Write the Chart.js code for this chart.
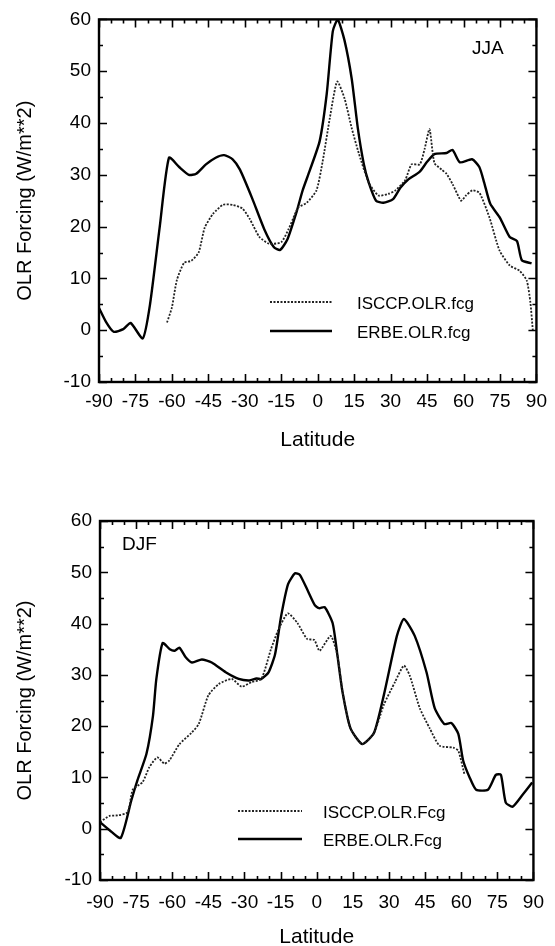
<!DOCTYPE html>
<html>
<head>
<meta charset="utf-8">
<script src="https://cdn.jsdelivr.net/npm/chart.js@4.4.0/dist/chart.umd.min.js"></script>
<style>
    body { margin: 0; background: #fff; width: 555px; height: 946px; overflow: hidden; position: relative; }
    canvas { position: absolute; left: 0; }
    #jjaChart { top: 0; }
    #djfChart { top: 460px; }
</style>
</head>
<body>
<canvas id="jjaChart" width="555" height="460"></canvas>
<canvas id="djfChart" width="555" height="500"></canvas>
<script>
// JJA panel - ERBE (solid)
const jjaErbeLat = [-90, -87, -84, -80, -77, -72, -69, -65, -61.2, -57, -53, -50, -46, -42, -38.5, -35, -32, -27, -22, -18, -15.5, -12.5, -8.6, -6.2, -3.3, 0.8, 3.7, 6.2, 8.2, 11, 14, 16.5, 19, 21, 24, 27, 31, 34, 37, 42, 45, 48, 53, 55.5, 58.5, 63.5, 66.5, 68.5, 71, 75, 79, 82, 84, 88];
const jjaErbeVal = [4.3, 1.5, -0.3, 0.2, 1.4, -1.6, 5, 20, 33.3, 31.5, 30, 30.2, 32, 33.3, 33.8, 33, 31, 25.5, 19.5, 16, 15.5, 17.5, 23, 27, 30.8, 36.5, 45.6, 57.7, 60, 56, 48.5, 39, 32, 28.5, 25, 24.6, 25.3, 27.5, 29, 30.6, 32.5, 34, 34.2, 34.8, 32.4, 33, 31.5, 28.5, 24.4, 21.7, 18, 17.2, 13.5, 12.9];

// JJA panel - ISCCP (dotted)
const jjaIsccpLat = [-62, -60, -58, -55, -52, -49, -46.5, -43, -39, -35, -31, -28, -24, -20, -15, -12, -10, -8, -4.5, -0.5, 2, 5, 8, 11, 14, 17, 21, 25, 29, 32, 36, 38.6, 42, 44, 46, 48, 51, 53, 55.5, 59, 61, 63.7, 66.6, 70.7, 74.8, 79, 83, 86, 87.5, 88.5];
const jjaIsccpVal = [1.5, 4.4, 9.6, 13, 13.4, 15, 19.8, 22.5, 24.2, 24.2, 23.5, 21.5, 18, 16.7, 17, 19.5, 21.7, 23.7, 24.6, 27, 32.5, 41, 48, 44.8, 39, 34, 28.5, 26, 26.3, 27, 29, 32, 32, 35, 38.8, 32.3, 31, 30.2, 28.2, 25, 26, 27, 26.5, 21.7, 15.4, 12.5, 11.5, 9.6, 5.4, 0];

// DJF panel - ERBE (solid)
const djfErbeLat = [-90, -86, -81.4, -77, -74.4, -70.7, -68, -66.6, -64, -61, -59, -57, -54.5, -51.8, -47.7, -43.6, -37.8, -32.4, -28, -25, -23, -20, -17.3, -14.8, -11.9, -9, -7, -3.7, -0.8, 1, 3.3, 6.6, 8.6, 10.7, 14, 18.9, 23.8, 27.9, 33.3, 36.2, 40.7, 45.6, 49, 53, 55.9, 58.8, 60.8, 63.5, 66.2, 71.1, 74.4, 76.5, 78.5, 81.4, 85.5, 89.5];
const djfErbeVal = [1.3, -0.3, -1.8, 5.5, 9.5, 14.6, 22, 29.2, 36.2, 35, 34.7, 35.3, 33.5, 32.4, 33, 32.4, 30.5, 29.2, 28.9, 29.3, 29.2, 30.5, 34, 41.4, 47.7, 49.8, 49.5, 46.4, 43.6, 43, 43.2, 40.1, 33.8, 26.7, 19.6, 16.5, 18.7, 26.1, 37.6, 40.9, 37.6, 30.5, 23.5, 20.4, 20.6, 18.5, 13.3, 10, 7.6, 7.6, 10.5, 10.5, 5.1, 4.3, 6.6, 9];

// DJF panel - ISCCP (dotted)
const djfIsccpLat = [-90, -86, -82.6, -78.5, -76.4, -72.3, -69.5, -66.2, -63.3, -61.2, -57, -52, -49, -45, -40.7, -35.3, -31.2, -27, -23, -19, -16, -12, -8, -4, -1, 1.2, 5.8, 8.6, 10.7, 14, 18.9, 23.8, 27.9, 32.5, 36.2, 38.6, 42.8, 46.9, 51, 56.7, 58.8, 61.3];
const djfIsccpVal = [1.3, 2.5, 2.6, 3.2, 7.6, 9.1, 12, 13.9, 12.7, 13.3, 16.5, 18.7, 20.4, 26, 28.2, 29.2, 27.7, 28.6, 29.2, 35, 38.7, 42, 40.1, 37, 36.8, 34.7, 37.6, 33.8, 26.7, 19.6, 16.5, 18.7, 24.2, 28.6, 31.8, 29.9, 23.5, 19.6, 16.2, 15.8, 15.2, 10.7];

// Axis setup
const latMin = -90, latMax = 90, latStep = 15, latMinor = 5;
const valMin = -10, valMax = 60, valStep = 10, valMinor = 5;

const FONT = "'Liberation Sans', Arial, Helvetica, sans-serif";

function toPoints(lats, vals) {
    return lats.map((x, i) => ({ x: x, y: vals[i] }));
}

// Inward ticks on all four sides, frame, legend and season label
const framePlugin = {
    id: 'frame',
    afterDatasetsDraw(chart) {
        const { ctx, chartArea: a, scales: { x, y } } = chart;
        const cfg = chart.options.plugins.frame;
        ctx.save();
        ctx.strokeStyle = '#000';
        ctx.lineWidth = 1.6;
        ctx.beginPath();
        for (let v = latMin; v <= latMax; v += latMinor) {
            const px = Math.round(x.getPixelForValue(v)) + 0.5;
            const len = v % latStep === 0 ? 8 : 4;
            ctx.moveTo(px, a.bottom); ctx.lineTo(px, a.bottom - len);
            ctx.moveTo(px, a.top); ctx.lineTo(px, a.top + len);
        }
        for (let v = valMin; v <= valMax; v += valMinor) {
            const py = Math.round(y.getPixelForValue(v)) + 0.5;
            const len = v % valStep === 0 ? 8 : 4;
            ctx.moveTo(a.left, py); ctx.lineTo(a.left + len, py);
            ctx.moveTo(a.right, py); ctx.lineTo(a.right - len, py);
        }
        ctx.stroke();

        ctx.lineWidth = 2.4;
        ctx.strokeRect(a.left, a.top, a.right - a.left, a.bottom - a.top);

        // legend
        ctx.font = '17px ' + FONT;
        ctx.fillStyle = '#000';
        ctx.textBaseline = 'middle';
        chart.data.datasets.forEach((ds, i) => {
            const ly = cfg.legendY + i * cfg.legendGap;
            ctx.beginPath();
            ctx.lineWidth = ds.borderWidth;
            ctx.setLineDash(ds.borderDash || []);
            ctx.strokeStyle = ds.borderColor;
            ctx.moveTo(cfg.legendX, ly);
            ctx.lineTo(cfg.legendX + cfg.legendLen, ly);
            ctx.stroke();
            ctx.setLineDash([]);
            ctx.fillText(ds.label, cfg.legendX + cfg.legendLen + cfg.textGap, ly + 2);
        });

        // season label
        ctx.font = '19px ' + FONT;
        ctx.fillText(cfg.season, cfg.seasonX, cfg.seasonY);
        ctx.restore();
    }
};

function makePanel(canvasId, erbe, isccp, labels, frame, area) {
    const ctx = document.getElementById(canvasId).getContext('2d');
    return new Chart(ctx, {
        type: 'line',
        data: {
            datasets: [
                {
                    label: labels[0],
                    data: isccp,
                    borderColor: '#222',
                    borderWidth: 1.8,
                    borderDash: [2, 1.5],
                    pointRadius: 0,
                    tension: 0.2,
                    fill: false
                },
                {
                    label: labels[1],
                    data: erbe,
                    borderColor: '#000',
                    borderWidth: 2.4,
                    pointRadius: 0,
                    tension: 0.2,
                    fill: false
                }
            ]
        },
        options: {
            responsive: false,
            animation: false,
            layout: { padding: { top: area.top, right: area.right, left: 0, bottom: 0 } },
            plugins: {
                legend: { display: false },
                tooltip: { enabled: false },
                frame: frame
            },
            scales: {
                x: {
                    type: 'linear',
                    min: latMin,
                    max: latMax,
                    grid: { display: false, drawTicks: false },
                    border: { display: false },
                    ticks: {
                        stepSize: latStep,
                        autoSkip: false,
                        maxRotation: 0,
                        padding: area.xPad,
                        color: '#000',
                        font: { family: FONT, size: 19 }
                    },
                    title: {
                        display: true,
                        text: 'Latitude',
                        color: '#000',
                        font: { family: FONT, size: 21 },
                        padding: { top: 0, bottom: area.titlePad }
                    },
                    afterFit: function(scale) { scale.height = area.xHeight; }
                },
                y: {
                    min: valMin,
                    max: valMax,
                    grid: { display: false, drawTicks: false },
                    border: { display: false },
                    ticks: {
                        stepSize: valStep,
                        padding: 8,
                        color: '#000',
                        font: { family: FONT, size: 19 }
                    },
                    title: {
                        display: true,
                        text: 'OLR Forcing (W/m**2)',
                        color: '#000',
                        font: { family: FONT, size: 20 },
                        padding: { top: 13, bottom: 0 }
                    },
                    afterFit: function(scale) { scale.width = area.left; }
                }
            }
        },
        plugins: [framePlugin]
    });
}

Chart.defaults.font.family = FONT;

makePanel('jjaChart',
    toPoints(jjaErbeLat, jjaErbeVal),
    toPoints(jjaIsccpLat, jjaIsccpVal),
    ['ISCCP.OLR.fcg', 'ERBE.OLR.fcg'],
    { legendX: 270, legendY: 302, legendGap: 29, legendLen: 62, textGap: 25, season: 'JJA', seasonX: 472, seasonY: 49 },
    { top: 16, right: 17, left: 99, xHeight: 78, xPad: 8, titlePad: 7 }
);

makePanel('djfChart',
    toPoints(djfErbeLat, djfErbeVal),
    toPoints(djfIsccpLat, djfIsccpVal),
    ['ISCCP.OLR.Fcg', 'ERBE.OLR.Fcg'],
    { legendX: 238, legendY: 351, legendGap: 28, legendLen: 64, textGap: 21, season: 'DJF', seasonX: 122, seasonY: 85 },
    { top: 61, right: 17, left: 100, xHeight: 80, xPad: 11, titlePad: 10 }
);
</script>
</body>
</html>
